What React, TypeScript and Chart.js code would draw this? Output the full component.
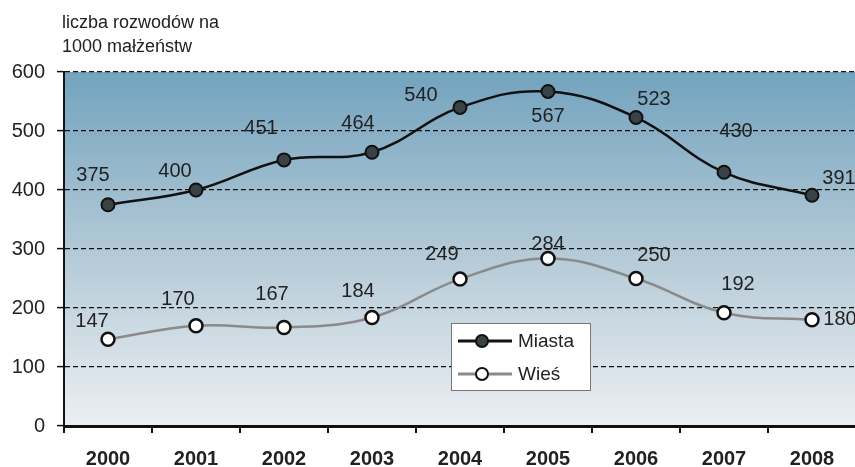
import React, { useEffect, useRef } from "react";
import { Chart, registerables } from "chart.js";

Chart.register(...registerables);

const years = ["2000", "2001", "2002", "2003", "2004", "2005", "2006", "2007", "2008"];
const miasta = [375, 400, 451, 464, 540, 567, 523, 430, 391];
const wies = [147, 170, 167, 184, 249, 284, 250, 192, 180];
const yTicks = [0, 100, 200, 300, 400, 500, 600];
const seriesNames = ["Miasta", "Wieś"];
const titleLines = ["liczba rozwodów na", "1000 małżeństw"];

// label offsets (pixels) relative to each point
const miastaLabelOffsets: [number, number][] = [
  [-15, -29], [-21, -19], [-23, -31], [-14, -29], [-39, -12], [0, 25], [18, -18], [12, -41], [27, -17],
];
const wiesLabelOffsets: [number, number][] = [
  [-16, -18], [-18, -26], [-12, -33], [-14, -26], [-18, -25], [0, -14], [18, -23], [14, -28], [28, 0],
];

const FONT = "'Liberation Sans', Arial, sans-serif";
const TEXT = "#222222";

const bgPlugin = {
  id: "bgGradient",
  beforeDraw(chart: any) {
    const { ctx, chartArea } = chart;
    if (!chartArea) return;
    const g = ctx.createLinearGradient(0, chartArea.top, 0, chartArea.bottom);
    g.addColorStop(0, "#73a3be");
    g.addColorStop(0.5, "#b2c9d6");
    g.addColorStop(1, "#eceff2");
    ctx.save();
    ctx.fillStyle = g;
    ctx.fillRect(chartArea.left, chartArea.top, chartArea.right - chartArea.left, chartArea.bottom - chartArea.top);
    ctx.restore();
  },
};

const overlayPlugin = {
  id: "overlay",
  afterDatasetsDraw(chart: any) {
    const { ctx } = chart;
    ctx.save();
    // title
    ctx.fillStyle = TEXT;
    ctx.font = `18px ${FONT}`;
    ctx.textAlign = "left";
    ctx.textBaseline = "alphabetic";
    ctx.fillText(titleLines[0], 62, 28);
    ctx.fillText(titleLines[1], 62, 52);

    // data labels
    ctx.font = `20px ${FONT}`;
    ctx.textAlign = "center";
    ctx.textBaseline = "middle";
    const offs = [miastaLabelOffsets, wiesLabelOffsets];
    [miasta, wies].forEach((arr, di) => {
      const meta = chart.getDatasetMeta(di);
      meta.data.forEach((pt: any, i: number) => {
        const o = offs[di][i];
        ctx.fillText(String(arr[i]), pt.x + o[0], pt.y + o[1]);
      });
    });

    // legend
    const bx = 451, by = 323, bw = 139, bh = 67;
    ctx.fillStyle = "#ffffff";
    ctx.fillRect(bx, by, bw, bh);
    ctx.strokeStyle = "#777777";
    ctx.lineWidth = 1;
    ctx.strokeRect(bx + 0.5, by + 0.5, bw, bh);
    const rows = [
      { y: 341, line: "#111111", fill: "#394245", name: seriesNames[0] },
      { y: 374, line: "#8a8a8a", fill: "#ffffff", name: seriesNames[1] },
    ];
    rows.forEach((r) => {
      ctx.strokeStyle = r.line;
      ctx.lineWidth = 3;
      ctx.beginPath();
      ctx.moveTo(458, r.y);
      ctx.lineTo(512, r.y);
      ctx.stroke();
      ctx.beginPath();
      ctx.arc(482, r.y, 6, 0, Math.PI * 2);
      ctx.fillStyle = r.fill;
      ctx.fill();
      ctx.strokeStyle = "#111111";
      ctx.lineWidth = 2;
      ctx.stroke();
      ctx.fillStyle = TEXT;
      ctx.font = `19px ${FONT}`;
      ctx.textAlign = "left";
      ctx.textBaseline = "middle";
      ctx.fillText(r.name, 518, r.y + 1);
    });
    ctx.restore();
  },
};

export default function App() {
  const ref = useRef<HTMLCanvasElement | null>(null);
  useEffect(() => {
    if (!ref.current) return;
    const chart = new Chart(ref.current, {
      type: "line",
      data: {
        labels: years,
        datasets: [
          {
            label: seriesNames[0],
            data: miasta,
            borderColor: "#111111",
            borderWidth: 2.5,
            tension: 0.4,
            pointRadius: 6.5,
            pointBorderWidth: 2,
            pointBackgroundColor: "#394245",
            pointBorderColor: "#111111",
          },
          {
            label: seriesNames[1],
            data: wies,
            borderColor: "#8a8a8a",
            borderWidth: 2.5,
            tension: 0.4,
            pointRadius: 6.5,
            pointBorderWidth: 2.5,
            pointBackgroundColor: "#ffffff",
            pointBorderColor: "#111111",
          },
        ],
      },
      options: {
        responsive: false,
        animation: false,
        layout: { autoPadding: false, padding: { top: 72, right: 0, left: 0, bottom: 0 } },
        plugins: {
          legend: { display: false },
          tooltip: { enabled: false },
          title: { display: false },
        },
        scales: {
          x: {
            offset: true,
            afterFit: (s: any) => { s.height = 41; s.paddingLeft = 0; s.paddingRight = 0; },
            grid: {
              offset: true,
              drawOnChartArea: false,
              drawTicks: true,
              tickLength: 7,
              color: "#111111",
              lineWidth: 2,
            },
            border: { display: true, color: "#111111", width: 3 },
            ticks: {
              color: TEXT,
              font: { family: FONT, size: 20, weight: "bold" },
              padding: 14,
              maxRotation: 0,
            },
          },
          y: {
            min: 0,
            max: 600,
            afterFit: (s: any) => { s.width = 64; s.paddingTop = 0; s.paddingBottom = 0; },
            afterBuildTicks: (s: any) => { s.ticks = yTicks.map((v) => ({ value: v })); },
            grid: {
              color: "#111111",
              lineWidth: 1.2,
              drawTicks: true,
              tickLength: 7,
              tickColor: "#111111",
              tickWidth: 1.5,
            },
            border: { display: true, color: "#111111", width: 2, dash: [5, 3] },
            ticks: {
              color: TEXT,
              font: { family: FONT, size: 20 },
              padding: 12,
            },
          },
        },
      },
      plugins: [bgPlugin, overlayPlugin],
    });
    return () => chart.destroy();
  }, []);
  return (
    <div style={{ position: "absolute", left: 0, top: 0, width: 855, height: 467, overflow: "hidden", background: "#fff" }}>
      <canvas ref={ref} width={856} height={467} style={{ display: "block" }} />
    </div>
  );
}
